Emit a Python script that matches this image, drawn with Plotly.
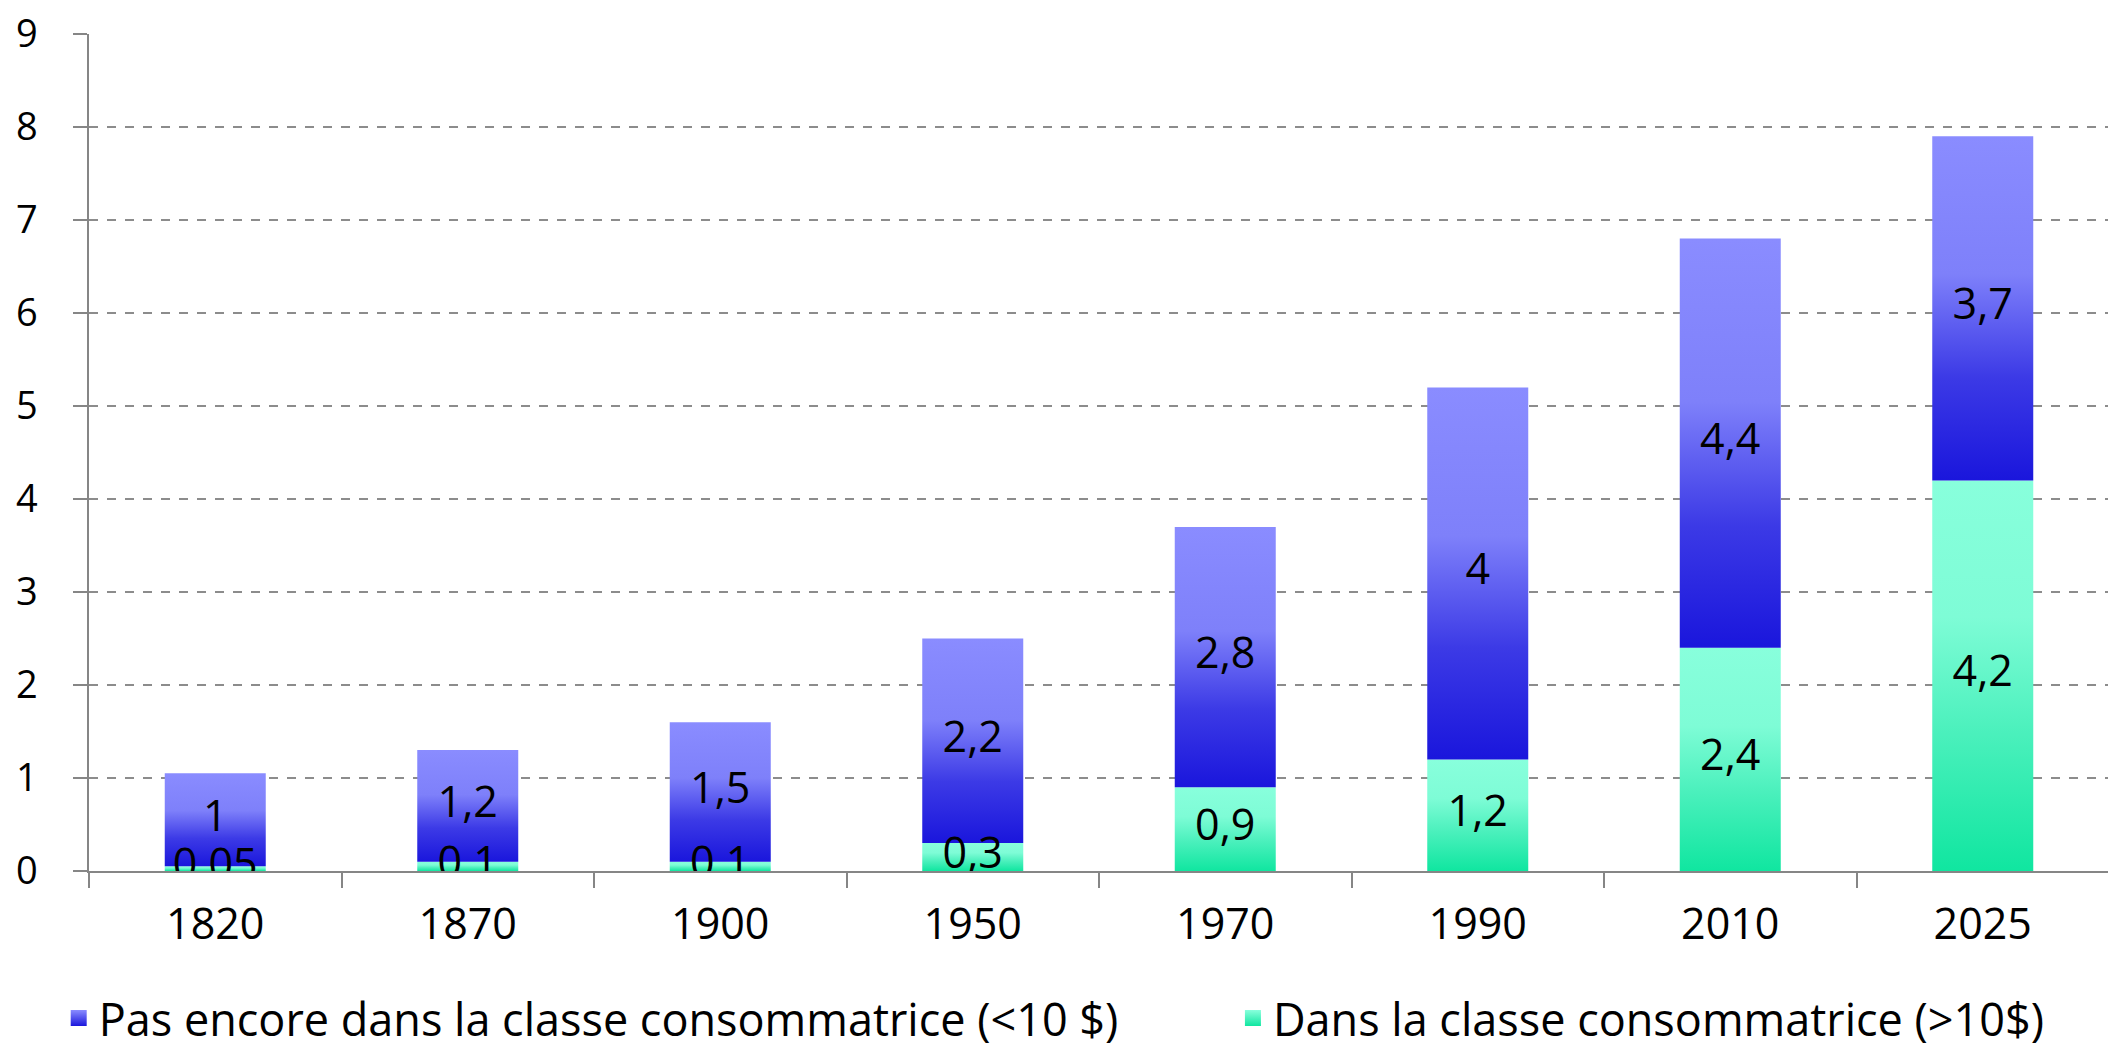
import plotly.graph_objects as go

years = ["1820", "1870", "1900", "1950", "1970", "1990", "2010", "2025"]
in_class = [0.05, 0.1, 0.1, 0.3, 0.9, 1.2, 2.4, 4.2]        # Dans la classe consommatrice (>10$)
not_in_class = [1, 1.2, 1.5, 2.2, 2.8, 4, 4.4, 3.7]         # Pas encore dans la classe consommatrice (<10 $)
y_ticks = [0, 1, 2, 3, 4, 5, 6, 7, 8, 9]

name_blue = "Pas encore dans la classe consommatrice (<10 $)"
name_green = "Dans la classe consommatrice (>10$)"

BLUE_SCALE = [[0, "#1a16dc"], [0.3, "#3c3ae6"], [0.6, "#7e80fa"], [1, "#8a8cff"]]
GREEN_SCALE = [[0, "#10e6a0"], [0.35, "#4af0bc"], [0.65, "#7efcd6"], [1, "#88ffdc"]]
BAR_W = 0.4
FONT = "Open Sans"
AXIS_COLOR = "#868686"


def fmt(v):
    return f"{v:g}".replace(".", ",")


fig = go.Figure()

for i, (g, b) in enumerate(zip(in_class, not_in_class)):
    x0, x1 = i - BAR_W / 2, i + BAR_W / 2
    # green segment (bottom)
    fig.add_trace(go.Scatter(
        x=[x0, x1, x1, x0, x0], y=[0, 0, g, g, 0],
        mode="lines", fill="toself",
        fillgradient=dict(type="vertical", colorscale=GREEN_SCALE, start=0, stop=g),
        line=dict(width=0, color="rgba(0,0,0,0)"),
        hoverinfo="skip", showlegend=False))
    # blue segment (top)
    fig.add_trace(go.Scatter(
        x=[x0, x1, x1, x0, x0], y=[g, g, g + b, g + b, g],
        mode="lines", fill="toself",
        fillgradient=dict(type="vertical", colorscale=BLUE_SCALE, start=g, stop=g + b),
        line=dict(width=0, color="rgba(0,0,0,0)"),
        hoverinfo="skip", showlegend=False))

idx = list(range(len(years)))
# data labels
fig.add_trace(go.Scatter(
    x=idx, y=[g / 2 for g in in_class], mode="text",
    text=[fmt(v) for v in in_class],
    textfont=dict(family=FONT, size=43, color="#000000"),
    hoverinfo="skip", showlegend=False))
fig.add_trace(go.Scatter(
    x=idx, y=[g + b / 2 for g, b in zip(in_class, not_in_class)], mode="text",
    text=[fmt(v) for v in not_in_class],
    textfont=dict(family=FONT, size=43, color="#000000"),
    hoverinfo="skip", showlegend=False))

# legend entries (two legends so each can be placed like the original)
fig.add_trace(go.Scatter(
    x=[None], y=[None], mode="markers", name=name_blue, legend="legend",
    marker=dict(symbol="square", size=16, color="#8a8cff",
                gradient=dict(type="vertical", color="#1a16dc"))))
fig.add_trace(go.Scatter(
    x=[None], y=[None], mode="markers", name=name_green, legend="legend2",
    marker=dict(symbol="square", size=16, color="#88ffdc",
                gradient=dict(type="vertical", color="#10e6a0"))))

LEG_Y = -0.176
fig.update_layout(
    width=2116, height=1053, autosize=False,
    margin=dict(l=81, r=15, t=26, b=190, autoexpand=False),
    paper_bgcolor="white", plot_bgcolor="white",
    font=dict(family=FONT, size=43, color="#000000"),
    xaxis=dict(
        range=[-0.5, len(years) - 0.5],
        tickmode="array", tickvals=idx, ticktext=years,
        ticks="", showgrid=False, zeroline=False,
        showline=True, linecolor=AXIS_COLOR, linewidth=1.5,
        tickfont=dict(family=FONT, size=43),
        ticklabelstandoff=15,
        minor=dict(tickmode="array", tickvals=[i - 0.5 for i in range(len(years) + 1)],
                   ticks="outside", ticklen=15, tickwidth=1.5, tickcolor=AXIS_COLOR,
                   showgrid=False),
        fixedrange=True,
    ),
    yaxis=dict(
        range=[0, 9], tickmode="array", tickvals=y_ticks,
        ticks="outside", ticklen=14, tickwidth=1.5, tickcolor=AXIS_COLOR,
        showgrid=True, gridcolor="#8c8c8c", gridwidth=1.5, griddash="dash",
        zeroline=False, showline=True, linecolor=AXIS_COLOR, linewidth=1.5,
        tickfont=dict(family=FONT, size=38),
        ticklabelstandoff=28, ticklabeloverflow="allow",
        fixedrange=True,
    ),
    legend=dict(
        orientation="h", x=-0.015, xanchor="left", y=LEG_Y, yanchor="middle",
        font=dict(family=FONT, size=45),
        bgcolor="rgba(0,0,0,0)", itemsizing="trace",
    ),
    legend2=dict(
        orientation="h", x=0.5663, xanchor="left", y=LEG_Y, yanchor="middle",
        font=dict(family=FONT, size=45),
        bgcolor="rgba(0,0,0,0)", itemsizing="trace",
    ),
    showlegend=True,
)

fig.write_html("out.html")
